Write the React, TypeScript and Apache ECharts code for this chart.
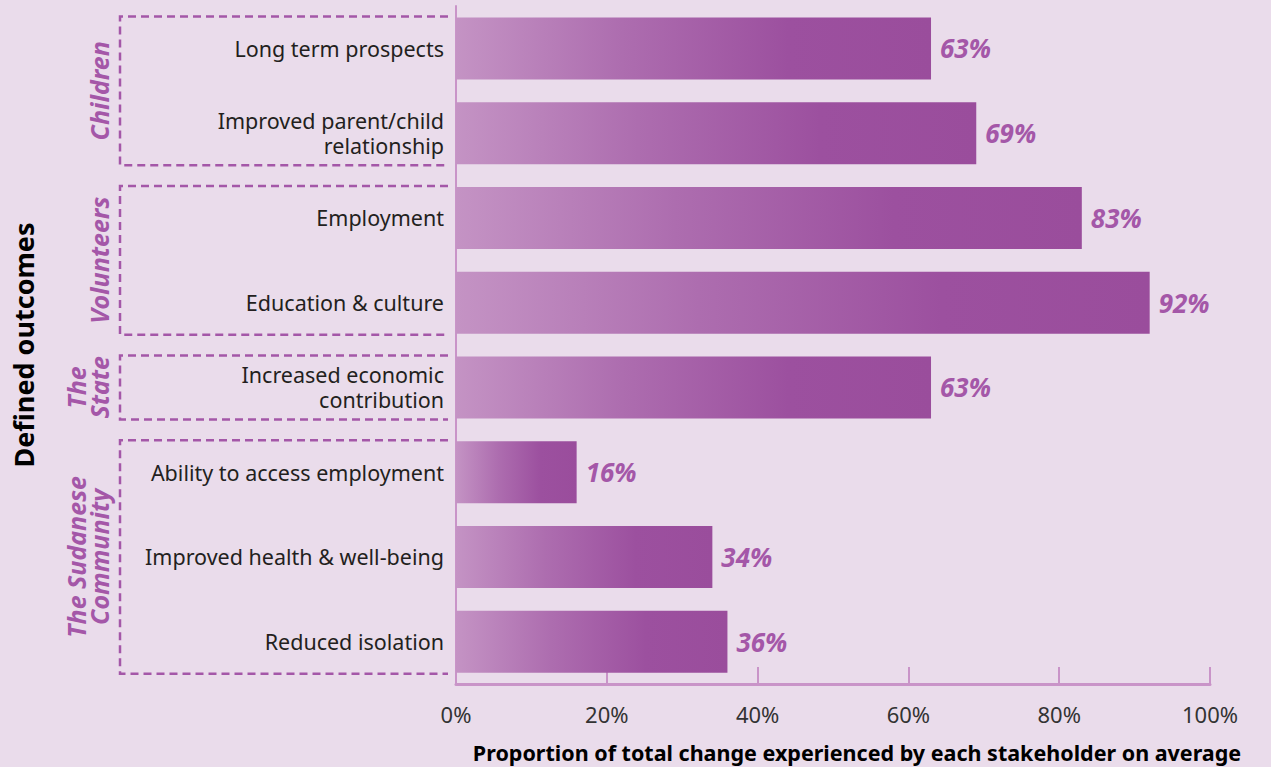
import React, { useEffect, useRef } from "react";
import * as echarts from "echarts";

const categories = [
  "Long term prospects",
  "Improved parent/child\nrelationship",
  "Employment",
  "Education & culture",
  "Increased economic\ncontribution",
  "Ability to access employment",
  "Improved health & well-being",
  "Reduced isolation",
];
const values = [63, 69, 83, 92, 63, 16, 34, 36];
const groupNames = ["Children", "Volunteers", "The\nState", "The Sudanese\nCommunity"];
const groupStart = [0, 2, 4, 5];
const groupEnd = [1, 3, 4, 7];
const xTicks = [0, 20, 40, 60, 80, 100];
const xTitle = "Proportion of total change experienced by each stakeholder on average";
const yTitle = "Defined outcomes";

const BG = "#EADCEB";
const PURPLE = "#A457A8";
const AXIS = "#C994C8";
const FONT = "Noto Sans";

export default function App() {
  const ref = useRef<HTMLDivElement>(null);
  useEffect(() => {
    document.body.style.margin = "0";
    const chart = echarts.init(ref.current!, null, { renderer: "svg" });
    const barW = 62;
    const option: any = {
      animation: false,
      backgroundColor: BG,
      grid: { left: 456, right: 61, top: 6, bottom: 83, containLabel: false },
      xAxis: {
        type: "value",
        min: xTicks[0],
        max: xTicks[xTicks.length - 1],
        interval: 20,
        axisLine: { show: true, lineStyle: { color: AXIS, width: 3 } },
        axisTick: { show: true, inside: true, length: 17, lineStyle: { color: AXIS, width: 2 } },
        splitLine: { show: false },
        axisLabel: {
          formatter: "{value}%",
          margin: 19,
          fontSize: 22,
          color: "#333",
          fontFamily: FONT,
        },
      },
      yAxis: {
        type: "category",
        inverse: true,
        data: categories,
        axisLine: { show: true, lineStyle: { color: AXIS, width: 2 } },
        axisTick: { show: false },
        axisLabel: {
          margin: 12,
          fontSize: 21.5,
          lineHeight: 25,
          color: "#231F20",
          fontFamily: FONT,
          align: "right",
        },
      },
      series: [
        {
          type: "bar",
          data: values,
          barWidth: barW,
          itemStyle: {
            color: new echarts.graphic.LinearGradient(0, 0, 1, 0, [
              { offset: 0, color: "#C493C4" },
              { offset: 0.35, color: "#AD6DAF" },
              { offset: 0.7, color: "#9C509F" },
              { offset: 1, color: "#9A4D9C" },
            ]),
          },
          label: {
            show: true,
            position: "right",
            distance: 9,
            formatter: "{c}%",
            fontSize: 26,
            fontWeight: "bold",
            fontStyle: "italic",
            color: PURPLE,
            fontFamily: FONT,
          },
        },
      ],
    };
    chart.setOption(option);

    const yc = (i: number) => chart.convertToPixel({ yAxisIndex: 0 }, i) as number;
    const half = barW / 2;
    const graphics: any[] = [];
    groupNames.forEach((name, gi) => {
      const top = yc(groupStart[gi]) - half - 1;
      const bottom = yc(groupEnd[gi]) + half + 1;
      graphics.push({
        type: "polyline",
        shape: { points: [[448, top], [120, top], [120, bottom], [448, bottom]] },
        style: { stroke: PURPLE, lineWidth: 2.5, lineDash: [8, 5], fill: null },
        silent: true,
      });
      graphics.push({
        type: "text",
        x: 110,
        y: (top + bottom) / 2,
        rotation: Math.PI / 2,
        style: {
          text: name,
          font: "italic bold 25px 'Noto Sans'",
          fill: PURPLE,
          textAlign: "center",
          textVerticalAlign: "bottom",
          lineHeight: 23,
        },
        silent: true,
      });
    });
    graphics.push({
      type: "text",
      x: 23,
      y: 345,
      rotation: Math.PI / 2,
      style: {
        text: yTitle,
        font: "bold 27px 'Noto Sans'",
        fill: "#000",
        textAlign: "center",
        textVerticalAlign: "middle",
      },
    });
    graphics.push({
      type: "text",
      x: 857,
      y: 752,
      style: {
        text: xTitle,
        font: "bold 21.5px 'Noto Sans'",
        fill: "#000",
        textAlign: "center",
        textVerticalAlign: "middle",
      },
    });
    chart.setOption({ graphic: graphics });
    return () => chart.dispose();
  }, []);
  return <div ref={ref} style={{ width: 1271, height: 767 }} />;
}
